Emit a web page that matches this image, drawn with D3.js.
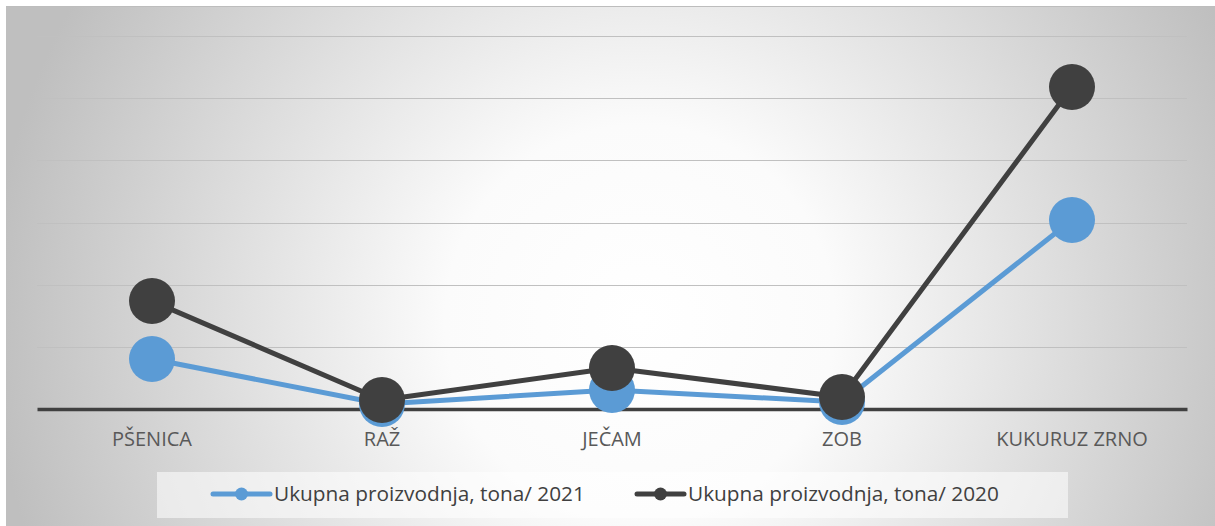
<!DOCTYPE html>
<html>
<head>
<meta charset="utf-8">
<script src="https://cdn.jsdelivr.net/npm/d3@7"></script>
<style>
  body { margin: 0; background: #fff; }
  text { font-family: "Open Sans", "DejaVu Sans", sans-serif; }
</style>
</head>
<body>
<div id="chart"></div>
<script>
// data (tons)
const categories = ["PŠENICA", "RAŽ", "JEČAM", "ZOB", "KUKURUZ ZRNO"];
const prod2021 = [402000, 40000, 153000, 56000, 1520000];
const prod2020 = [868000, 72000, 330000, 97000, 2590000];
const yTicks = [0, 500000, 1000000, 1500000, 2000000, 2500000, 3000000];
const seriesNames = ["Ukupna proizvodnja, tona/ 2021", "Ukupna proizvodnja, tona/ 2020"];
const seriesColors = ["#5b9bd5", "#404040"];

const width = 1215, height = 526;
const plot = { left: 37, right: 1187, top: 36, bottom: 409 };

const svg = d3.select("#chart").append("svg")
    .attr("width", width)
    .attr("height", height);

const defs = svg.append("defs");
const grad = defs.append("radialGradient")
    .attr("id", "bg")
    .attr("gradientUnits", "userSpaceOnUse")
    .attr("cx", 640).attr("cy", 320).attr("r", 650);
grad.append("stop").attr("offset", "0%").attr("stop-color", "#ffffff");
grad.append("stop").attr("offset", "30%").attr("stop-color", "#fbfbfb");
grad.append("stop").attr("offset", "100%").attr("stop-color", "#bfbfbf");

svg.append("rect")
    .attr("x", 6).attr("y", 6)
    .attr("width", width - 6).attr("height", height - 6)
    .attr("fill", "url(#bg)");
svg.append("line")
    .attr("x1", 6).attr("x2", width).attr("y1", 6.5).attr("y2", 6.5)
    .attr("stroke", "#bdbdbd").attr("stroke-width", 1);

const x = d3.scaleBand().domain(categories).range([plot.left, plot.right]);
const y = d3.scaleLinear().domain([0, 3000000]).range([plot.bottom, plot.top]);

// gridlines
svg.append("g")
    .selectAll("line")
    .data(yTicks.slice(1))
    .enter().append("line")
    .attr("x1", plot.left).attr("x2", plot.right)
    .attr("y1", d => Math.round(y(d)) + 0.5)
    .attr("y2", d => Math.round(y(d)) + 0.5)
    .attr("stroke", "#c0c0c0")
    .attr("stroke-width", 1.2);

// x axis
const xAxis = svg.append("g")
    .attr("transform", `translate(0,${plot.bottom})`)
    .call(d3.axisBottom(x).tickSize(0).tickPadding(23));
xAxis.select(".domain")
    .attr("stroke", "#404040")
    .attr("stroke-width", 3.5);
xAxis.selectAll("text")
    .attr("fill", "#595959")
    .style("font-size", "20px")
    .style("font-family", "'Open Sans', sans-serif");

const line = d3.line()
    .x((d, i) => x(categories[i]) + x.bandwidth() / 2)
    .y(d => y(d));

const series = [prod2021, prod2020];

series.forEach((vals, s) => {
    const g = svg.append("g");
    g.append("path")
        .datum(vals)
        .attr("fill", "none")
        .attr("stroke", seriesColors[s])
        .attr("stroke-width", 5)
        .attr("stroke-linejoin", "round")
        .attr("d", line);
    g.selectAll("circle")
        .data(vals)
        .enter().append("circle")
        .attr("cx", (d, i) => x(categories[i]) + x.bandwidth() / 2)
        .attr("cy", d => y(d))
        .attr("r", 23)
        .attr("fill", seriesColors[s]);
});

// legend
const legend = svg.append("g");
legend.append("rect")
    .attr("x", 157).attr("y", 472)
    .attr("width", 911).attr("height", 46)
    .attr("fill", "#ffffff")
    .attr("fill-opacity", 0.55);

const legendItems = [
    { x0: 213, x1: 270, text: 274 },
    { x0: 637, x1: 684, text: 688 }
];
legendItems.forEach((it, s) => {
    legend.append("line")
        .attr("x1", it.x0).attr("x2", it.x1)
        .attr("y1", 494).attr("y2", 494)
        .attr("stroke", seriesColors[s])
        .attr("stroke-width", 5)
        .attr("stroke-linecap", "round");
    legend.append("circle")
        .attr("cx", (it.x0 + it.x1) / 2).attr("cy", 494)
        .attr("r", 6.5)
        .attr("fill", seriesColors[s]);
    legend.append("text")
        .attr("x", it.text).attr("y", 501)
        .attr("fill", "#404040")
        .style("font-size", "20.8px")
        .text(seriesNames[s]);
});
</script>
</body>
</html>
